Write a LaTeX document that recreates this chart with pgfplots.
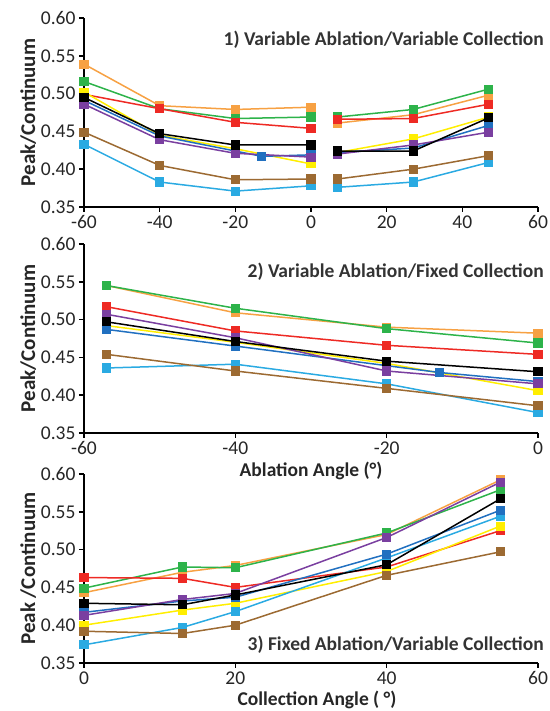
\documentclass[border=0pt]{standalone}
\usepackage{fontspec}
\setmainfont{Carlito}
\usepackage{pgfplots}
\pgfplotsset{compat=1.18}

\definecolor{cOrange}{HTML}{F7A143}
\definecolor{cGreen}{HTML}{2DB34A}
\definecolor{cRed}{HTML}{EE2A24}
\definecolor{cYellow}{HTML}{FFEE00}
\definecolor{cBlue}{HTML}{2170C0}
\definecolor{cPurple}{HTML}{7A3FA0}
\definecolor{cBrown}{HTML}{9C6A32}
\definecolor{cLight}{HTML}{2AAAE2}

\pgfplotsset{
  panel/.style={
    scale only axis, width=454pt, height=189pt,
    anchor=south west,
    axis x line*=bottom, axis y line*=left,
    axis line style={line width=1.8pt, -},
    tick style={line width=1.6pt, black},
    major tick length=5pt,
    tick align=outside,
    ymin=0.35, ymax=0.60, ytick={0.35,0.40,...,0.61},
    yticklabel style={/pgf/number format/.cd, fixed, fixed zerofill, precision=2},
    ticklabel style={font=\fontsize{19.5}{22}\selectfont, text=black!85},
    /pgf/number format/assume math mode=true,
    clip=false,
    unbounded coords=jump,
    ylabel style={font=\bfseries\fontsize{21}{24}\selectfont, text=black!85, yshift=-2pt},
    every axis plot/.append style={line width=1.5pt, mark=square*, mark size=3.8pt},
  },
}

\begin{document}
\begin{tikzpicture}[x=1pt,y=1pt]
\path[use as bounding box] (0,0) rectangle (549,711);

% ---- panel 1: variable ablation / variable collection
\begin{axis}[panel, at={(84pt,504pt)},
  xmin=-60, xmax=60, xtick={-60,-40,...,60},
  ylabel={Peak/Continuum}]
\addplot[cOrange, mark options={fill=cOrange}] coordinates {
(-60,0.539)(-40,0.484)(-20,0.479)(0,0.482)(3,nan)(7,0.461)(27,0.472)(47,0.498)};
\addplot[cGreen, mark options={fill=cGreen}] coordinates {
(-60,0.516)(-40,0.480)(-20,0.467)(0,0.469)(3,nan)(7,0.469)(27,0.479)(47,0.506)};
\addplot[cRed, mark options={fill=cRed}] coordinates {
(-60,0.499)(-40,0.480)(-20,0.462)(0,0.454)(3,nan)(7,0.466)(27,0.467)(47,0.486)};
\addplot[cYellow, mark options={fill=cYellow}] coordinates {
(-60,0.502)(-40,0.445)(-20,0.427)(0,0.407)(3,nan)(7,0.422)(27,0.440)(47,0.469)};
\addplot[cLight, mark options={fill=cLight}] coordinates {
(-60,0.433)(-40,0.383)(-20,0.371)(0,0.378)(3,nan)(7,0.376)(27,0.383)(47,0.409)};
\addplot[cBlue, mark options={fill=cBlue}] coordinates {
(-60,0.491)(-40,0.444)(-13,0.417)(0,0.419)(3,nan)(7,0.422)(27,0.428)(47,0.458)};
\addplot[cPurple, mark options={fill=cPurple}] coordinates {
(-60,0.486)(-40,0.439)(-20,0.421)(0,0.416)(3,nan)(7,0.420)(27,0.432)(47,0.449)};
\addplot[cBrown, mark options={fill=cBrown}] coordinates {
(-60,0.449)(-40,0.405)(-20,0.386)(0,0.387)(3,nan)(7,0.387)(27,0.400)(47,0.418)};
\addplot[black, mark options={fill=black}] coordinates {
(-60,0.495)(-40,0.447)(-20,0.432)(0,0.432)(3,nan)(7,0.424)(27,0.424)(47,0.468)};
\end{axis}

% ---- panel 2: variable ablation / fixed collection
\begin{axis}[panel, at={(84pt,278pt)},
  xmin=-60, xmax=0, xtick={-60,-40,-20,0},
  ylabel={Peak/Continuum}]
\addplot[cOrange, mark options={fill=cOrange}] coordinates {
(-57,0.545)(-40,0.509)(-20,0.490)(0,0.482)};
\addplot[cGreen, mark options={fill=cGreen}] coordinates {
(-57,0.545)(-40,0.515)(-20,0.488)(0,0.469)};
\addplot[cRed, mark options={fill=cRed}] coordinates {
(-57,0.517)(-40,0.485)(-20,0.466)(0,0.454)};
\addplot[cYellow, mark options={fill=cYellow}] coordinates {
(-57,0.492)(-40,0.470)(-20,0.442)(0,0.406)};
\addplot[cLight, mark options={fill=cLight}] coordinates {
(-57,0.436)(-40,0.441)(-20,0.415)(0,0.377)};
\addplot[cBlue, mark options={fill=cBlue}] coordinates {
(-57,0.487)(-40,0.465)(-13,0.430)(0,0.418)};
\addplot[cPurple, mark options={fill=cPurple}] coordinates {
(-57,0.507)(-40,0.476)(-20,0.432)(0,0.415)};
\addplot[cBrown, mark options={fill=cBrown}] coordinates {
(-57,0.454)(-40,0.432)(-20,0.409)(0,0.386)};
\addplot[black, mark options={fill=black}] coordinates {
(-57,0.497)(-40,0.471)(-20,0.445)(0,0.431)};
\end{axis}

% ---- panel 3: fixed ablation / variable collection
\begin{axis}[panel, at={(84pt,48pt)},
  xmin=0, xmax=60, xtick={0,20,40,60},
  ylabel={Peak /Continuum}]
\addplot[cOrange, mark options={fill=cOrange}] coordinates {
(0,0.443)(13,0.470)(20,0.479)(40,0.520)(55,0.592)};
\addplot[cGreen, mark options={fill=cGreen}] coordinates {
(0,0.449)(13,0.477)(20,0.476)(40,0.522)(55,0.579)};
\addplot[cRed, mark options={fill=cRed}] coordinates {
(0,0.463)(13,0.462)(20,0.450)(40,0.477)(55,0.525)};
\addplot[cYellow, mark options={fill=cYellow}] coordinates {
(0,0.400)(13,0.420)(20,0.429)(40,0.471)(55,0.531)};
\addplot[cLight, mark options={fill=cLight}] coordinates {
(0,0.374)(13,0.397)(20,0.418)(40,0.489)(55,0.544)};
\addplot[cBlue, mark options={fill=cBlue}] coordinates {
(0,0.417)(13,0.432)(20,0.437)(40,0.494)(55,0.552)};
\addplot[cPurple, mark options={fill=cPurple}] coordinates {
(0,0.413)(13,0.434)(20,0.442)(40,0.516)(55,0.589)};
\addplot[cBrown, mark options={fill=cBrown}] coordinates {
(0,0.392)(13,0.389)(20,0.400)(40,0.466)(55,0.497)};
\addplot[black, mark options={fill=black}] coordinates {
(0,0.429)(13,0.427)(20,0.440)(40,0.480)(55,0.567)};
\end{axis}

% titles and axis labels
\begin{scope}[every node/.style={font=\bfseries\fontsize{19.5}{22}\selectfont, text=black!80, inner sep=0pt}]
\node[anchor=east] at (544,671) {1) Variable Ablation/Variable Collection};
\node[anchor=east] at (544,439) {2) Variable Ablation/Fixed Collection};
\node[anchor=east] at (544,66) {3) Fixed Ablation/Variable Collection};
\end{scope}
\begin{scope}[every node/.style={font=\bfseries\fontsize{19.5}{22}\selectfont, text=black!85, inner sep=0pt}]
\node at (311,240) {Ablation Angle (°)};
\node at (317,11) {Collection Angle ( °)};
\end{scope}
\end{tikzpicture}
\end{document}
